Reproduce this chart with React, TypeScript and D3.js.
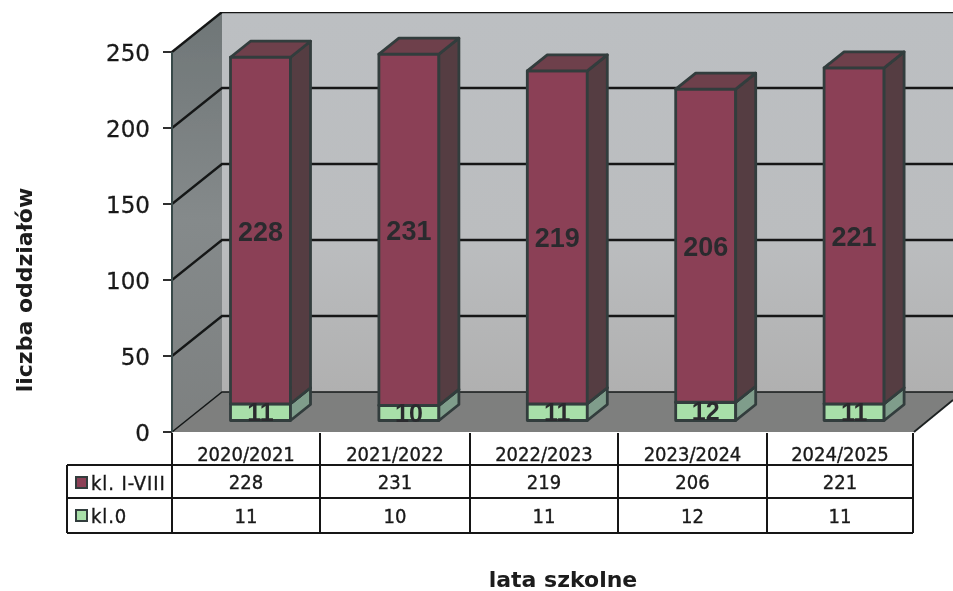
import React from "react";
import * as d3 from "d3";

const years = ["2020/2021", "2021/2022", "2022/2023", "2023/2024", "2024/2025"];
const seriesNames = ["kl.0", "kl. I-VIII"];
const klass0 = [11, 10, 11, 12, 11];
const klass18 = [228, 231, 219, 206, 221];
const yTicks = [0, 50, 100, 150, 200, 250];

const W = 953, H = 591;
const DX = 50, DY = -40; // wall depth
const BDX = 20, BDY = -16; // bar depth
const OFFX = 58.5, OFFY = -11.5, BARW = 60;

const x = d3.scaleBand<string>().domain(years).range([172, 914]);
const y = d3.scaleLinear().domain([0, 250]).range([432, 52]);

const rows = years.map((yr, i) => ({ yr, "kl.0": klass0[i], "kl. I-VIII": klass18[i] }));
const stacked = d3.stack<any>().keys(seriesNames)(rows);
const line = d3.line<[number, number]>();

const colors: Record<string, { front: string; side: string; top: string }> = {
  "kl.0": { front: "#a8dfa9", side: "#7f9d8b", top: "#8fb59a" },
  "kl. I-VIII": { front: "#8b4056", side: "#553c42", top: "#6e3f4b" },
};
const EDGE = "#323c3c";
const FONT = "'DejaVu Sans', sans-serif";
const COND = "'DejaVu Sans Condensed', 'DejaVu Sans', sans-serif";

const rowY = [433, 465, 498, 533];
const colX = [172, 320, 470, 618, 767, 913];

export default function App() {
  const x0 = 172, x1 = 914, yb = y(0), yt = y(250);
  return (
    <svg width={W} height={H} viewBox={`0 0 ${W} ${H}`} style={{ position: "absolute", left: 0, top: 0, background: "#fff" }} fontFamily={FONT}>
      <defs>
        <filter id="scan" x="0" y="0" width="100%" height="100%">
          <feGaussianBlur stdDeviation="0.5" />
        </filter>
        <linearGradient id="sideWall" x1="0" x2="0" y1="0" y2="1">
          <stop offset="0" stopColor="#6f7677" />
          <stop offset="0.5" stopColor="#858a8b" />
          <stop offset="1" stopColor="#7d8080" />
        </linearGradient>
        <linearGradient id="backWall" x1="0" x2="0" y1="0" y2="1">
          <stop offset="0" stopColor="#bcbfc2" />
          <stop offset="0.6" stopColor="#bbbdbf" />
          <stop offset="1" stopColor="#b0b0b0" />
        </linearGradient>
      </defs>
      <g filter="url(#scan)">
        <rect x={x0 + DX} y={yt + DY} width={W - x0 - DX} height={yb - yt} fill="url(#backWall)" />
        <path d={line([[x0, yb], [x0, yt], [x0 + DX, yt + DY], [x0 + DX, yb + DY]])! + "Z"} fill="url(#sideWall)" />
        <path d={line([[x0, yb], [x0 + DX, yb + DY], [W, yb + DY], [W, yb - 32], [x1, yb]])! + "Z"} fill="#7e7f7e" />
        {yTicks.map((t) => (
          <g key={t} stroke="#151818" fill="none">
            <path d={line([[x0, y(t)], [x0 + DX, y(t) + DY], [W, y(t) + DY]])!} strokeWidth={t === 0 ? 1.6 : 2.4} />
            <line x1={x0 - 9} x2={x0} y1={y(t)} y2={y(t)} strokeWidth={1.8} />
          </g>
        ))}
        <line x1={x0} x2={x0} y1={yt} y2={yb} stroke="#39494a" strokeWidth={2} />
        <line x1={x1} x2={W} y1={yb} y2={yb - 32} stroke="#1c2020" strokeWidth={1.8} />

        {stacked.map((s) => (
          <g key={s.key}>
            {s.map((d, i) => {
              const c = colors[s.key];
              const bx = x(years[i])! + OFFX;
              const by0 = y(d[0]) + OFFY;
              const by1 = y(d[1]) + OFFY;
              return (
                <g key={i} stroke={EDGE} strokeWidth={2.8} strokeLinejoin="round">
                  <rect x={bx} y={by1} width={BARW} height={by0 - by1} fill={c.front} />
                  <path d={line([[bx + BARW, by0], [bx + BARW, by1], [bx + BARW + BDX, by1 + BDY], [bx + BARW + BDX, by0 + BDY]])! + "Z"} fill={c.side} />
                  <path d={line([[bx, by1], [bx + BDX, by1 + BDY], [bx + BARW + BDX, by1 + BDY], [bx + BARW, by1]])! + "Z"} fill={c.top} />
                </g>
              );
            })}
          </g>
        ))}
        {stacked.map((s) =>
          s.map((d, i) => {
            const bx = x(years[i])! + OFFX + BARW / 2;
            const my = (y(d[0]) + y(d[1])) / 2 + OFFY;
            return (
              <text key={s.key + i} x={bx} y={my + (s.key === "kl.0" ? 9 : 10)} textAnchor="middle" fontFamily="'Liberation Sans', sans-serif"
                fontWeight={700} fontSize={s.key === "kl.0" ? 25 : 27} fill="#2b2c2e">
                {d[1] - d[0]}
              </text>
            );
          })
        )}
        {yTicks.map((t) => (
          <text key={t} x={150} y={y(t) + 9} textAnchor="end" fontSize={23} fill="#1a1a1a" stroke="#1a1a1a" strokeWidth={0.3}>{t}</text>
        ))}
        <g stroke="#151515" strokeWidth={2} fill="none">
          <line x1={67} x2={913} y1={rowY[1]} y2={rowY[1]} />
          <line x1={67} x2={913} y1={rowY[2]} y2={rowY[2]} />
          <line x1={67} x2={913} y1={rowY[3]} y2={rowY[3]} />
          <line x1={67} x2={67} y1={rowY[1]} y2={rowY[3]} />
          {colX.map((cx) => <line key={cx} x1={cx} x2={cx} y1={rowY[0]} y2={rowY[3]} />)}
        </g>
        {years.map((yr, i) => {
          const cx = (colX[i] + colX[i + 1]) / 2;
          return (
            <g key={yr} textAnchor="middle" fontSize={20} fill="#1a1a1a" fontFamily={COND} stroke="#1a1a1a" strokeWidth={0.35}>
              <text x={cx} y={461}>{yr}</text>
              <text x={cx} y={489}>{klass18[i]}</text>
              <text x={cx} y={523}>{klass0[i]}</text>
            </g>
          );
        })}
        <rect x={76} y={477} width={11} height={11} fill={colors["kl. I-VIII"].front} stroke={EDGE} strokeWidth={2} />
        <rect x={76} y={510} width={11} height={11} fill={colors["kl.0"].front} stroke={EDGE} strokeWidth={2} />
        <text x={91} y={490} fontSize={20} fill="#1a1a1a" stroke="#1a1a1a" strokeWidth={0.35} letterSpacing={0.9} fontFamily={COND}>{seriesNames[1]}</text>
        <text x={91} y={523} fontSize={20} fill="#1a1a1a" stroke="#1a1a1a" strokeWidth={0.35} letterSpacing={0.9} fontFamily={COND}>{seriesNames[0]}</text>
        <text transform="translate(32,290) rotate(-90)" textAnchor="middle" fontWeight={700} fontSize={22} fill="#1a1a1a">liczba oddziałów</text>
        <text x={563} y={587} textAnchor="middle" fontWeight={700} fontSize={22} fill="#1a1a1a">lata szkolne</text>
      </g>
    </svg>
  );
}
